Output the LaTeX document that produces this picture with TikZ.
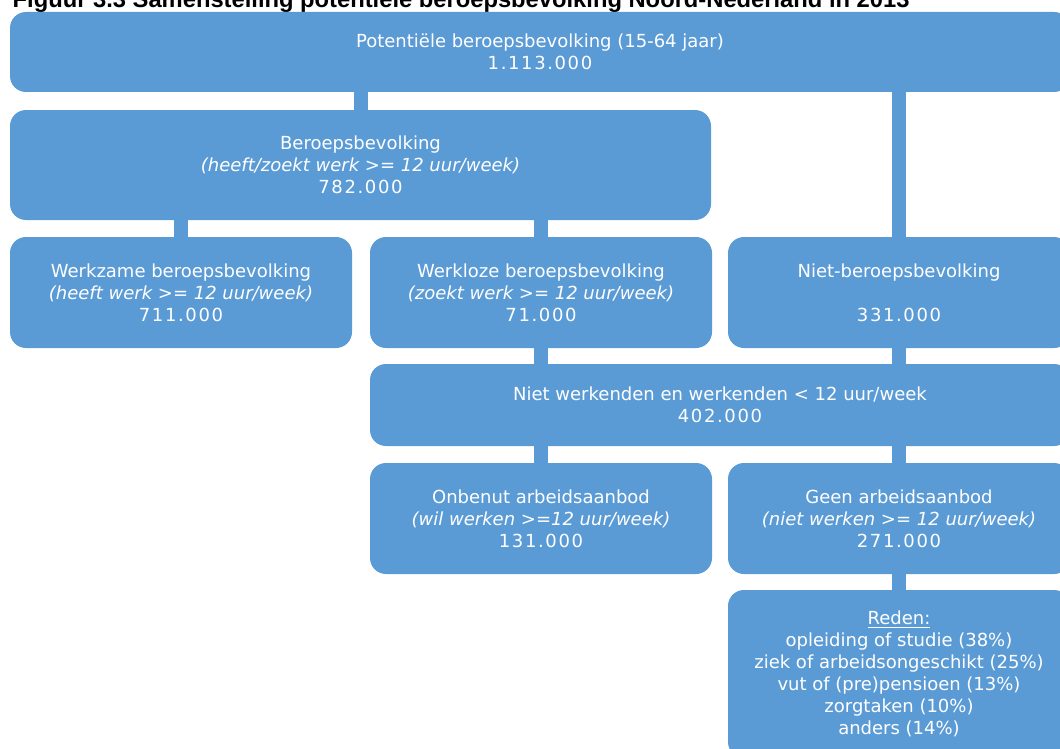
\documentclass[tikz,border=0pt]{standalone}
\usepackage{fontspec}
\setmainfont{DejaVu Sans}
\newfontfamily\titelfont{Liberation Sans}
\newlength{\du}
\setlength{\du}{0.75pt}
\newcommand{\getal}[1]{{\addfontfeatures{LetterSpace=9}#1}}
\begin{document}
\begin{tikzpicture}[
  blok/.style={fill=blokkleur, rounded corners=16\du, text=white, align=center,
    inner sep=0pt, font=\fontsize{13.5pt}{16.5pt}\selectfont},
  verbinding/.style={draw=blokkleur, line width=14\du}]
\pgftransformxscale{1.000000}
\pgftransformyscale{-1.000000}
\definecolor{blokkleur}{rgb}{0.357000, 0.608000, 0.835000}
\clip (0\du,0\du) rectangle (1060\du,749\du);

\node[anchor=base west, font=\titelfont\bfseries\fontsize{17.8pt}{21pt}\selectfont] (titel) at (8\du,7.5\du)
  {Figuur 3.3 Samenstelling potenti\"ele beroepsbevolking Noord-Nederland in 2013};

\node[blok, minimum width=1060\du, minimum height=80\du] (potentieel) at (540\du,52\du)
  {Potenti\"ele beroepsbevolking (15-64 jaar)\\\getal{1.113.000}};
\node[blok, minimum width=701\du, minimum height=110\du] (beroeps) at (360.5\du,165\du)
  {Beroepsbevolking\\\textit{(heeft/zoekt werk >= 12 uur/week)}\\\getal{782.000}};
\node[blok, minimum width=342\du, minimum height=111\du] (werkzaam) at (181\du,292.5\du)
  {Werkzame beroepsbevolking\\\textit{(heeft werk >= 12 uur/week)}\\\getal{711.000}};
\node[blok, minimum width=342\du, minimum height=111\du] (werkloos) at (541\du,292.5\du)
  {Werkloze beroepsbevolking\\\textit{(zoekt werk >= 12 uur/week)}\\\getal{71.000}};
\node[blok, minimum width=342\du, minimum height=111\du] (nietberoeps) at (899\du,292.5\du)
  {Niet-beroepsbevolking\\\mbox{}\\\getal{331.000}};
\node[blok, minimum width=700\du, minimum height=82\du] (nietwerkend) at (720\du,405\du)
  {Niet werkenden en werkenden < 12 uur/week\\\getal{402.000}};
\node[blok, minimum width=342\du, minimum height=111\du] (onbenut) at (541\du,518.5\du)
  {Onbenut arbeidsaanbod\\\textit{(wil werken >=12 uur/week)}\\\getal{131.000}};
\node[blok, minimum width=342\du, minimum height=111\du] (geen) at (899\du,518.5\du)
  {Geen arbeidsaanbod\\\textit{(niet werken >= 12 uur/week)}\\\getal{271.000}};
\node[blok, minimum width=342\du, minimum height=168\du] (reden) at (899\du,674\du)
  {\underline{Reden:}\\opleiding of studie (38\%)\\ziek of arbeidsongeschikt (25\%)\\
   vut of (pre)pensioen (13\%)\\zorgtaken (10\%)\\anders (14\%)};

\draw[verbinding] (beroeps.north) -- (beroeps.north |- potentieel.south);
\draw[verbinding] (nietberoeps.north) -- (nietberoeps.north |- potentieel.south);
\draw[verbinding] (werkzaam.north) -- (werkzaam.north |- beroeps.south);
\draw[verbinding] (werkloos.north) -- (werkloos.north |- beroeps.south);
\draw[verbinding] (werkloos.south) -- (werkloos.south |- nietwerkend.north);
\draw[verbinding] (nietberoeps.south) -- (nietberoeps.south |- nietwerkend.north);
\draw[verbinding] (onbenut.north) -- (onbenut.north |- nietwerkend.south);
\draw[verbinding] (geen.north) -- (geen.north |- nietwerkend.south);
\draw[verbinding] (reden.north) -- (reden.north |- geen.south);
\end{tikzpicture}
\end{document}
